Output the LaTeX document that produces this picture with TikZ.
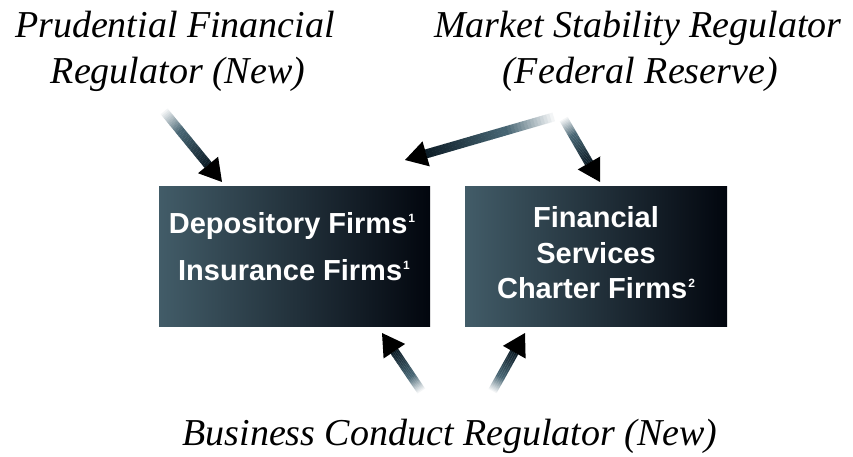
\documentclass[tikz,border=0pt]{standalone}
\usepackage{fontspec}
\usetikzlibrary{calc}
\newfontfamily\titlefont{Liberation Serif}
\newfontfamily\boxfont{Liberation Sans}
\definecolor{boxL}{RGB}{66,92,104}
\definecolor{boxM}{RGB}{28,48,60}
\definecolor{boxR}{RGB}{2,6,14}
\definecolor{shaftA}{RGB}{70,100,114}
\definecolor{shaftB}{RGB}{14,30,40}
\newcommand\supn[1]{\kern1pt\raisebox{11pt}{\fontsize{12}{12}\selectfont #1}}
\newcommand\gradarrow[3]{%
  \coordinate (#3b) at ($(#2)!22pt!(#1)$);
  \foreach \i in {0,...,15}{%
    \pgfmathsetmacro\fa{\i/16*0.4}%
    \pgfmathsetmacro\fb{(\i+1.1)/16*0.4}%
    \pgfmathsetmacro\pc{\i*100/15}%
    \draw[shaftA!\pc!white, line width=9pt] ($(#1)!\fa!(#3b)$) -- ($(#1)!\fb!(#3b)$);
  }
  \foreach \i in {0,...,23}{%
    \pgfmathsetmacro\fa{0.4+\i/24*0.6}%
    \pgfmathsetmacro\fb{0.4+(\i+1.1)/24*0.6}%
    \pgfmathsetmacro\pc{\i*100/23}%
    \draw[shaftB!\pc!shaftA, line width=9pt] ($(#1)!\fa!(#3b)$) -- ($(#1)!\fb!(#3b)$);
  }
  \fill[black] (#2) -- ($(#3b)!13pt!90:(#2)$) -- ($(#3b)!13pt!-90:(#2)$) -- cycle;
}
\tikzset{
  firmbox/.style={rectangle, inner sep=0pt, minimum width=271pt, minimum height=140pt,
    left color=boxL, middle color=boxM, right color=boxR},
  firmtext/.style={anchor=base, inner sep=0pt, text=white,
    font=\boxfont\bfseries\fontsize{29}{29}\selectfont},
  regtext/.style={anchor=base, inner sep=0pt, text=black,
    font=\titlefont\itshape\fontsize{38}{45}\selectfont},
}
\begin{document}
\begin{tikzpicture}[x=1pt, y=-1pt]
\useasboundingbox[fill=white] (0,0) rectangle (853,457);
% boxes
\node[firmbox] (dep) at (294.5,256.5) {};
\node[firmbox, minimum width=262pt] (fsc) at (596,256.5) {};
\node[firmtext] (dep1) at (292,233) {Depository Firms\supn{1}};
\node[firmtext] (dep2) at (294,280) {Insurance Firms\supn{1}};
\node[firmtext] (fsc1) at (596,227) {Financial};
\node[firmtext] (fsc2) at (596,263) {Services};
\node[firmtext] (fsc3) at (596,298) {Charter Firms\supn{2}};
% regulators
\node[regtext] (pfr1) at (175,38) {Prudential Financial};
\node[regtext] (pfr2) at (178,84) {Regulator (New)};
\node[regtext] (msr1) at (638,38) {Market Stability Regulator};
\node[regtext] (msr2) at (640,84) {(Federal Reserve)};
\node[regtext] (bcr) at (450,445) {Business Conduct Regulator (New)};
% arrow end points
\coordinate (t1) at (163,110); \coordinate (h1) at (222,182);
\coordinate (t2) at (557,116); \coordinate (h2) at (405,160);
\coordinate (t3) at (563,118); \coordinate (h3) at (600,182);
\coordinate (t4) at (422,392); \coordinate (h4) at (382,333);
\coordinate (t5) at (492,392); \coordinate (h5) at (525,333);
\gradarrow{t1}{h1}{a1}
\gradarrow{t2}{h2}{a2}
\gradarrow{t3}{h3}{a3}
\gradarrow{t4}{h4}{a4}
\gradarrow{t5}{h5}{a5}
\end{tikzpicture}
\end{document}
